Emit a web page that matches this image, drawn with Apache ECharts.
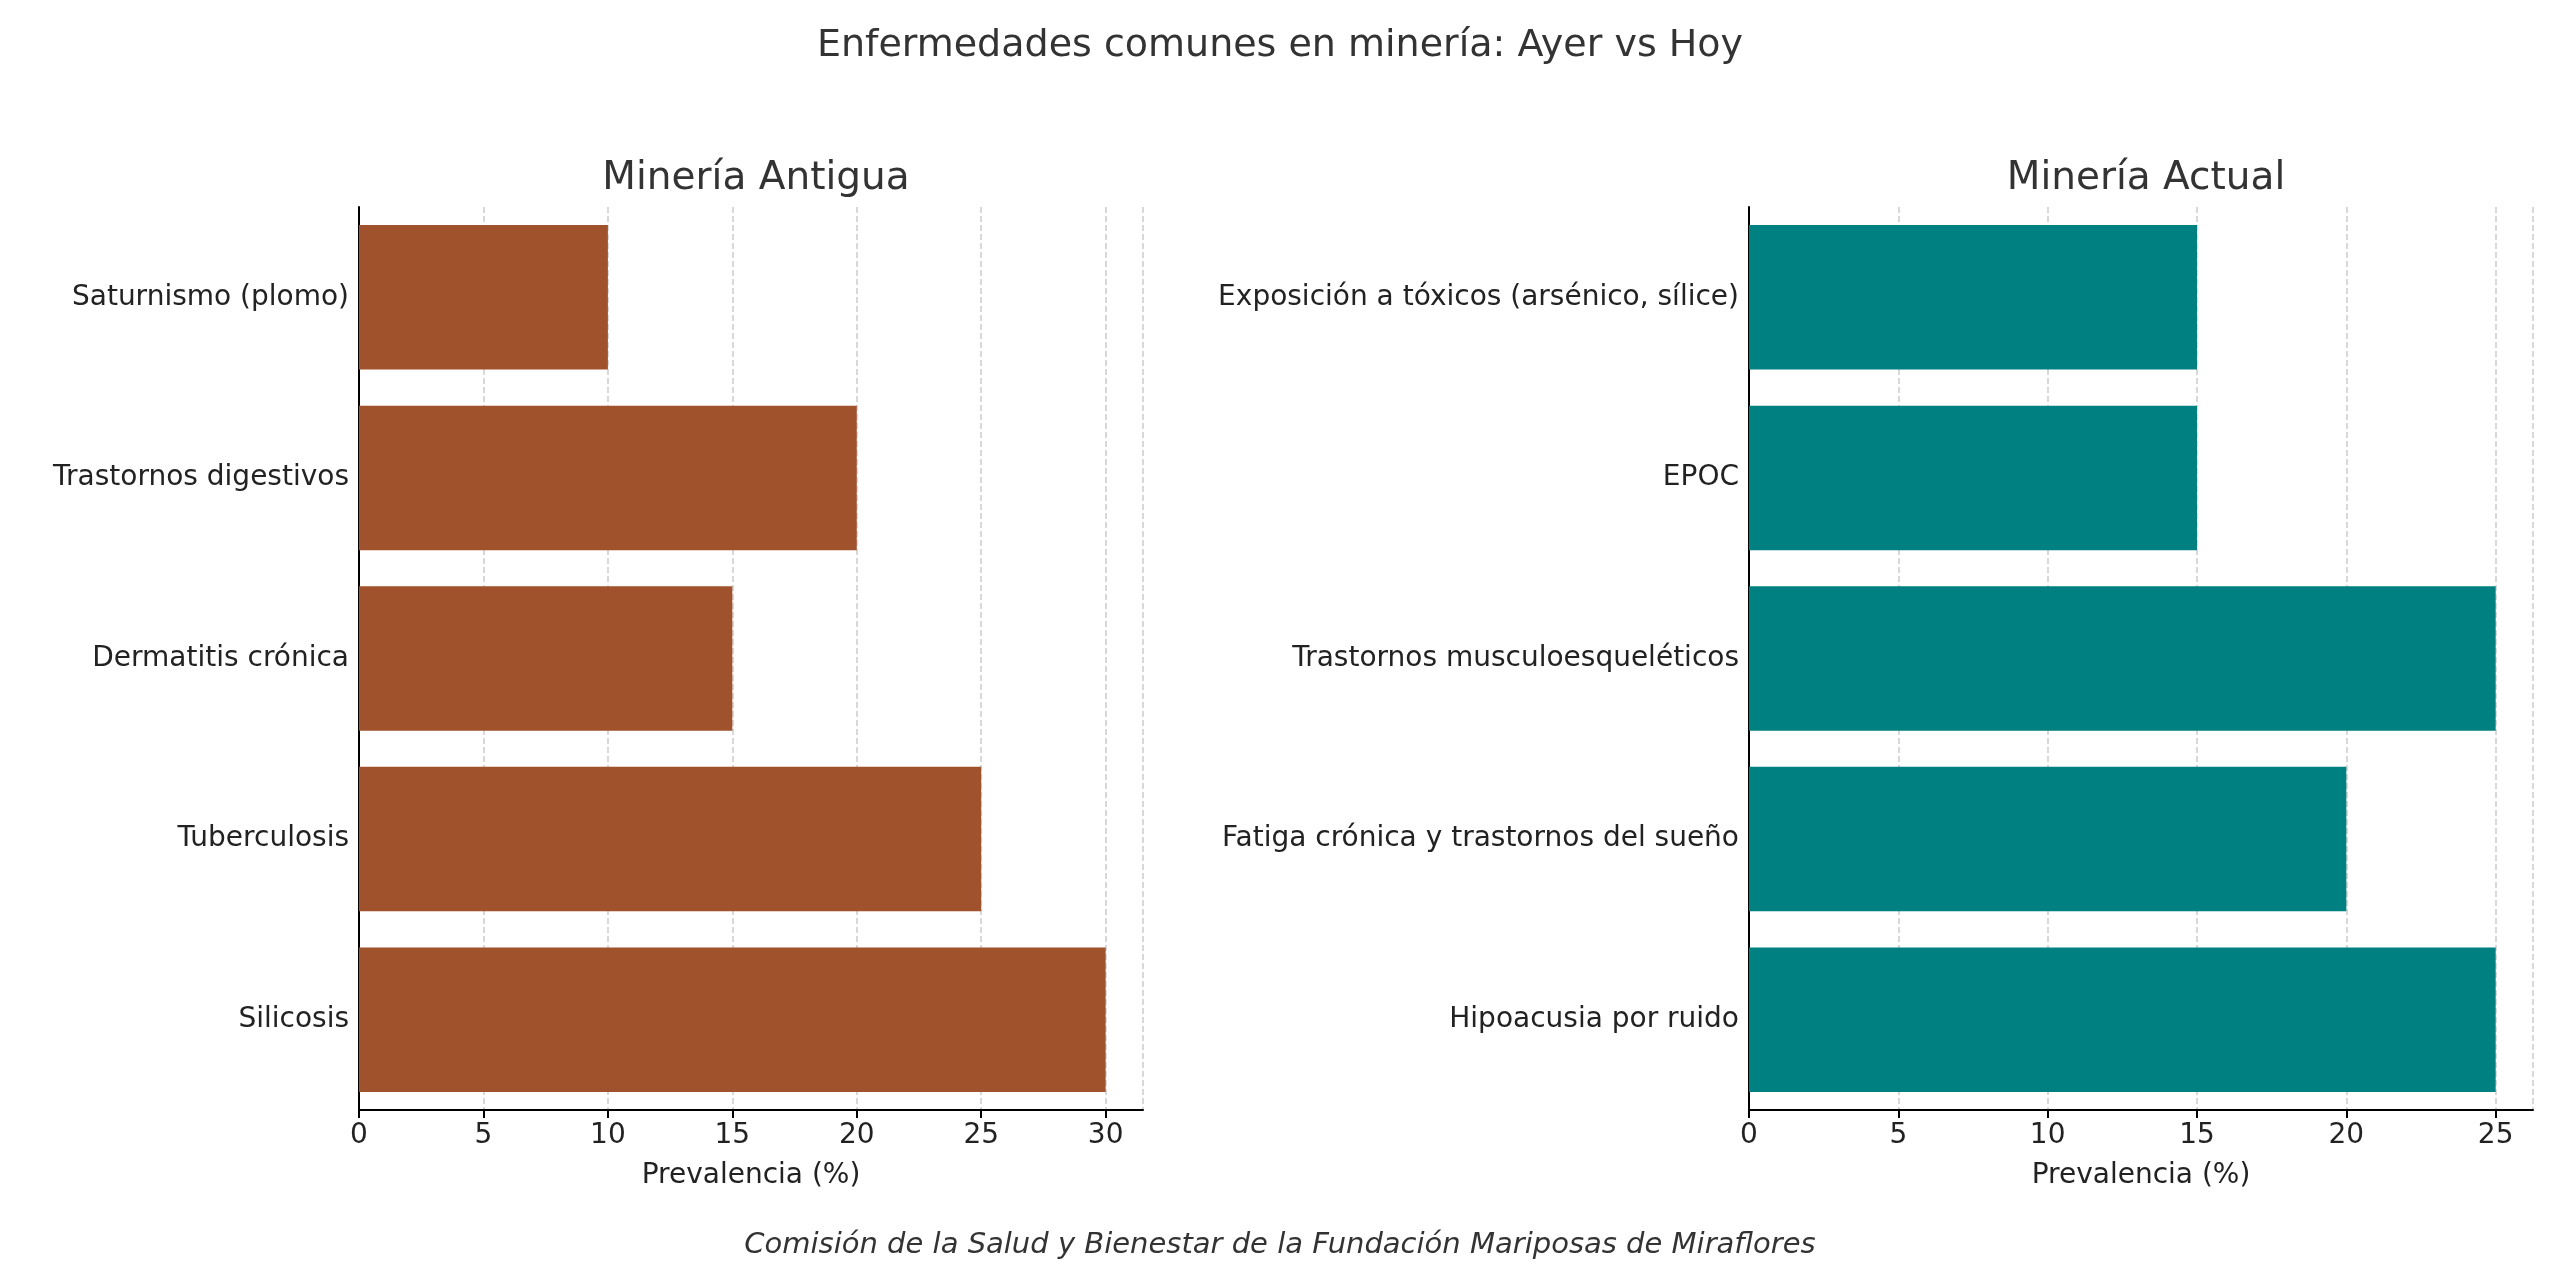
<!DOCTYPE html>
<html>
<head>
<meta charset="utf-8">
<script src="https://cdn.jsdelivr.net/npm/echarts@6/dist/echarts.min.js"></script>
<style>
html, body { margin: 0; padding: 0; background: #fff; }
#chart { width: 2560px; height: 1280px; }
</style>
</head>
<body>
<div id="chart"></div>
<script>
var antiguaCats = ['Silicosis', 'Tuberculosis', 'Dermatitis crónica', 'Trastornos digestivos', 'Saturnismo (plomo)'];
var antiguaVals = [30, 25, 15, 20, 10];
var actualCats = ['Hipoacusia por ruido', 'Fatiga crónica y trastornos del sueño', 'Trastornos musculoesqueléticos', 'EPOC', 'Exposición a tóxicos (arsénico, sílice)'];
var actualVals = [25, 20, 25, 15, 15];

var font = 'DejaVu Sans';
var gridLine = { show: true, lineStyle: { color: '#cccccc', type: 'dashed', width: 1.5 } };

function xAxisOf(idx, max) {
	return {
		type: 'value', gridIndex: idx, min: 0, max: max, interval: 5,
		name: 'Prevalencia (%)', nameLocation: 'middle', nameGap: 52,
		nameTextStyle: { fontFamily: font, fontSize: 28, color: '#222' },
		axisLine: { show: true, lineStyle: { color: '#000', width: 2 } },
		axisTick: { show: true, length: 8, lineStyle: { color: '#000', width: 2 } },
		axisLabel: { fontFamily: font, fontSize: 28, color: '#222', margin: 12, showMaxLabel: false },
		splitLine: gridLine
	};
}
function yAxisOf(idx, cats) {
	return {
		type: 'category', gridIndex: idx, data: cats,
		axisLine: { show: true, lineStyle: { color: '#000', width: 2 } },
		axisTick: { show: false },
		axisLabel: { fontFamily: font, fontSize: 28, color: '#222', margin: 10 },
		splitLine: { show: false }
	};
}

var option = {
	animation: false,
	title: [
		{ text: 'Enfermedades comunes en minería: Ayer vs Hoy', left: 'center', top: 22, textStyle: { fontFamily: font, fontSize: 38, fontWeight: 'normal', color: '#333' } },
		{ text: 'Minería Antigua', left: 751, top: 154, textAlign: 'center', textStyle: { fontFamily: font, fontSize: 39, fontWeight: 'normal', color: '#333' } },
		{ text: 'Minería Actual', left: 2141, top: 154, textAlign: 'center', textStyle: { fontFamily: font, fontSize: 39, fontWeight: 'normal', color: '#333' } },
		{ text: 'Comisión de la Salud y Bienestar de la Fundación Mariposas de Miraflores', left: 'center', top: 1226, textStyle: { fontFamily: font, fontSize: 29, fontStyle: 'italic', fontWeight: 'normal', color: '#333' } }
	],
	grid: [
		{ left: 359, right: 1417, top: 207, bottom: 170 },
		{ left: 1749, right: 27, top: 207, bottom: 170 }
	],
	xAxis: [xAxisOf(0, 31.5), xAxisOf(1, 26.25)],
	yAxis: [yAxisOf(0, antiguaCats), yAxisOf(1, actualCats)],
	series: [
		{ type: 'bar', xAxisIndex: 0, yAxisIndex: 0, data: antiguaVals, barCategoryGap: '20%', itemStyle: { color: '#A0522D' } },
		{ type: 'bar', xAxisIndex: 1, yAxisIndex: 1, data: actualVals, barCategoryGap: '20%', itemStyle: { color: '#008080' } }
	]
};
var myChart = echarts.init(document.getElementById('chart'));
myChart.setOption(option);
</script>
</body>
</html>
